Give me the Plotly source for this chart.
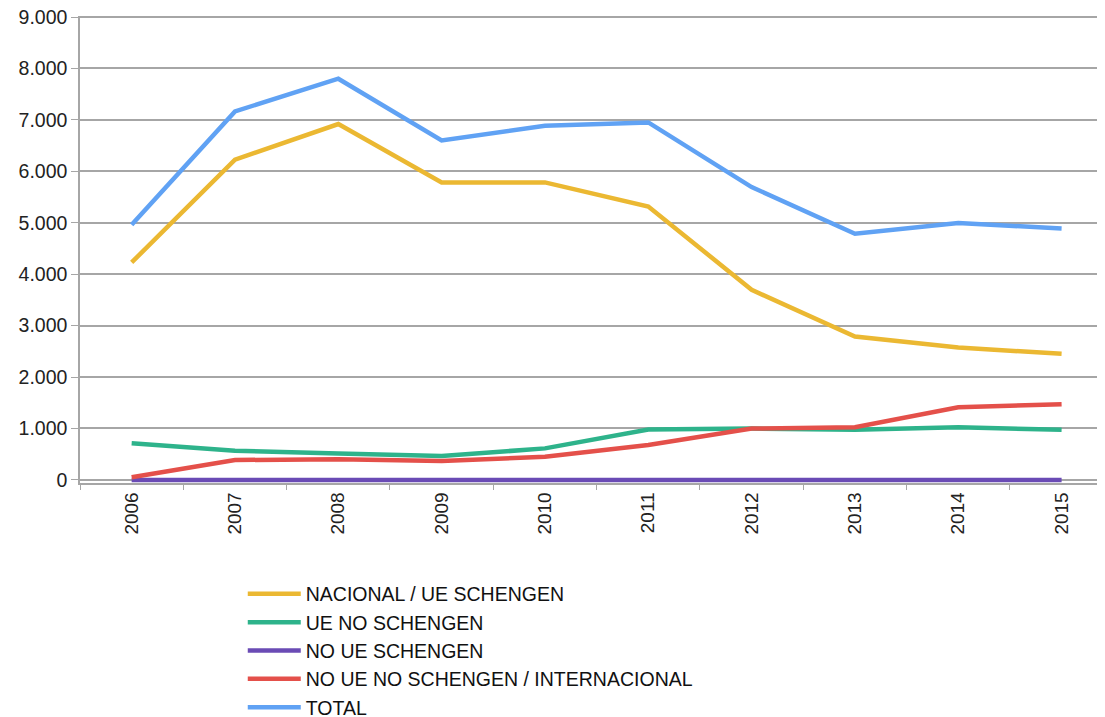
import plotly.graph_objects as go

years = ["2006", "2007", "2008", "2009", "2010", "2011", "2012", "2013", "2014", "2015"]
nacional_ue_schengen = [4228, 6226, 6920, 5784, 5784, 5317, 3696, 2788, 2574, 2451]
ue_no_schengen = [714, 567, 516, 464, 613, 981, 998, 973, 1025, 973]
no_ue_schengen = [0, 0, 0, 0, 0, 0, 0, 0, 0, 0]
no_ue_no_schengen = [53, 387, 400, 367, 451, 677, 998, 1025, 1414, 1473]
total = [4961, 7165, 7801, 6601, 6887, 6951, 5694, 4786, 4994, 4889]

series = [
    ("NACIONAL / UE SCHENGEN", nacional_ue_schengen, "#EBB832"),
    ("UE NO SCHENGEN", ue_no_schengen, "#2EB38B"),
    ("NO UE SCHENGEN", no_ue_schengen, "#6A4BB5"),
    ("NO UE NO SCHENGEN / INTERNACIONAL", no_ue_no_schengen, "#E4504A"),
    ("TOTAL", total, "#60A2F4"),
]

fig = go.Figure()
for name, vals, col in series:
    fig.add_trace(go.Scatter(x=years, y=vals, name=name, mode="lines",
                             line=dict(color=col, width=4.5)))

fig.update_layout(
    width=1097, height=709,
    margin=dict(l=72, r=0, t=8, b=234, autoexpand=False),
    paper_bgcolor="white", plot_bgcolor="white",
    separators=",.",
    font=dict(family="Liberation Sans, Arial, sans-serif", size=19, color="#222222"),
    showlegend=True,
    legend=dict(xref="container", yref="container", x=0.214, y=0.2008,
                xanchor="left", yanchor="top",
                orientation="v", font=dict(size=19.5, color="#111111"),
                itemwidth=53, tracegroupgap=0, bgcolor="rgba(0,0,0,0)"),
)
fig.update_xaxes(
    type="category", range=[-0.5, 9.42], automargin=False,
    showgrid=False, showline=True, linecolor="#A6A6A6", linewidth=1.5,
    ticks="outside", tickson="boundaries", ticklen=5, tickcolor="#A6A6A6",
    tickangle=-90, tickfont=dict(size=19, color="#222222"),
    layer="below traces",
)
fig.update_yaxes(
    range=[-60, 9020], tick0=0, dtick=1000,
    tickformat=",d", automargin=False, ticklabeloverflow="allow",
    showgrid=True, gridcolor="#A6A6A6", gridwidth=1.5,
    zeroline=False,
    showline=True, linecolor="#A6A6A6", linewidth=1.5,
    ticks="outside", ticklen=7, tickcolor="#A6A6A6",
    tickfont=dict(size=19.5, color="#222222"),
    layer="below traces",
)

fig.write_html("out.html")
